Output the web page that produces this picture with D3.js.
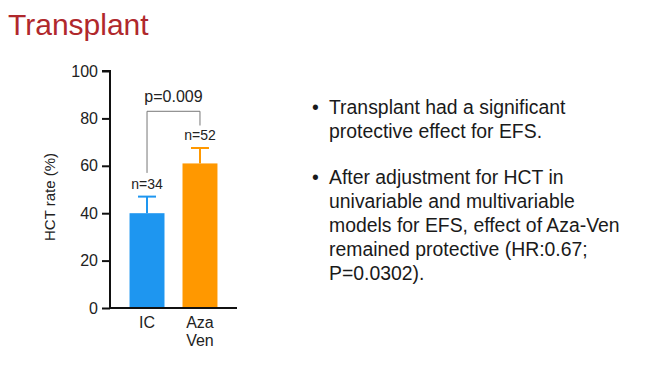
<!DOCTYPE html>
<html>
<head>
<meta charset="utf-8">
<script src="https://cdn.jsdelivr.net/npm/d3@7"></script>
<style>
  body { margin: 0; background: #fff; }
  svg { display: block; font-family: "Liberation Sans", Arial, sans-serif; }
</style>
</head>
<body>
<div class="chart"></div>
<script>
// chart data
var categories = ["IC", "Aza Ven"];
var rates = [40, 61];
var errorTops = [47, 67.5];
var nLabels = ["n=34", "n=52"];
var yTicks = [0, 20, 40, 60, 80, 100];
var pLabel = "p=0.009";
// bracket in data units: top, left end, right end
var bracket = [83, 57, 77];

var titleText = "Transplant";
var bullets = [
  ["Transplant had a significant", "protective effect for EFS."],
  ["After adjustment for HCT in", "univariable and multivariable",
   "models for EFS, effect of Aza-Ven", "remained protective (HR:0.67;",
   "P=0.0302)."]
];

var svgWidth = 663, svgHeight = 372;
var colors = ["#1e96f0", "#ff9800"];

var svg = d3.select(".chart")
  .append("svg")
  .attr("width", svgWidth)
  .attr("height", svgHeight);

// title
svg.append("text")
  .attr("x", 8)
  .attr("y", 35)
  .style("font-size", "30px")
  .style("fill", "#b0282c")
  .text(titleText);

// scales
var yScale = d3.scaleLinear()
  .domain([0, 100])
  .range([308, 71]);

var xScale = d3.scaleBand()
  .domain(categories)
  .range([111, 236])
  .paddingInner(0.34)
  .paddingOuter(0.35);

// bars
svg.selectAll("rect.bar")
  .data(rates)
  .enter()
  .append("rect")
  .attr("class", "bar")
  .attr("x", (d, i) => xScale(categories[i]))
  .attr("y", d => yScale(d))
  .attr("width", xScale.bandwidth())
  .attr("height", d => yScale(0) - yScale(d))
  .attr("fill", (d, i) => colors[i]);

// error bars (upper only)
var errG = svg.selectAll("g.err")
  .data(errorTops)
  .enter()
  .append("g")
  .attr("class", "err")
  .attr("stroke", (d, i) => colors[i])
  .attr("stroke-width", 2);

errG.append("line")
  .attr("x1", (d, i) => xScale(categories[i]) + xScale.bandwidth() / 2)
  .attr("x2", (d, i) => xScale(categories[i]) + xScale.bandwidth() / 2)
  .attr("y1", (d, i) => yScale(rates[i]))
  .attr("y2", d => yScale(d));

errG.append("line")
  .attr("x1", (d, i) => xScale(categories[i]) + xScale.bandwidth() / 2 - 9)
  .attr("x2", (d, i) => xScale(categories[i]) + xScale.bandwidth() / 2 + 9)
  .attr("y1", d => yScale(d))
  .attr("y2", d => yScale(d));

// n labels
svg.selectAll("text.n")
  .data(nLabels)
  .enter()
  .append("text")
  .attr("class", "n")
  .attr("x", (d, i) => xScale(categories[i]) + xScale.bandwidth() / 2)
  .attr("y", (d, i) => yScale(errorTops[i]) - 8)
  .style("font-size", "14px")
  .style("text-anchor", "middle")
  .style("fill", "#222")
  .text(d => d);

// significance bracket
var cx0 = xScale(categories[0]) + xScale.bandwidth() / 2;
var cx1 = xScale(categories[1]) + xScale.bandwidth() / 2;
svg.append("path")
  .attr("d", `M${cx0},${yScale(bracket[1])}V${yScale(bracket[0])}H${cx1}V${yScale(bracket[2])}`)
  .attr("fill", "none")
  .attr("stroke", "#777")
  .attr("stroke-width", 1);

svg.append("text")
  .attr("x", (cx0 + cx1) / 2)
  .attr("y", yScale(bracket[0]) - 9)
  .style("font-size", "16px")
  .style("text-anchor", "middle")
  .style("fill", "#222")
  .text(pLabel);

// axes
var leftAxis = d3.axisLeft(yScale)
  .tickValues(yTicks)
  .tickSize(8)
  .tickPadding(4);

var yAxisG = svg.append("g")
  .attr("transform", "translate(110,0)")
  .call(leftAxis);
yAxisG.select(".domain").attr("d", `M-8,${yScale(100)}H0V${yScale(0)}`);
yAxisG.selectAll("path, line").attr("stroke", "#111").attr("stroke-width", 2);
yAxisG.selectAll("text").style("font-size", "16px").style("fill", "#222")
  .style("font-family", "'Liberation Sans', Arial, sans-serif");

svg.append("line")
  .attr("x1", 109)
  .attr("x2", 237)
  .attr("y1", yScale(0))
  .attr("y2", yScale(0))
  .attr("stroke", "#111")
  .attr("stroke-width", 2);

// category labels
var catText = svg.selectAll("text.cat")
  .data(categories)
  .enter()
  .append("text")
  .attr("class", "cat")
  .attr("x", d => xScale(d) + xScale.bandwidth() / 2)
  .attr("y", 328)
  .style("font-size", "16px")
  .style("text-anchor", "middle")
  .style("fill", "#222");

catText.selectAll("tspan")
  .data(d => d.split(" "))
  .enter()
  .append("tspan")
  .attr("x", function () { return d3.select(this.parentNode).attr("x"); })
  .attr("dy", (d, i) => i === 0 ? 0 : 18)
  .text(d => d);

// y axis label
svg.append("text")
  .attr("transform", "translate(55,197) rotate(-90)")
  .style("font-size", "15px")
  .style("text-anchor", "middle")
  .style("fill", "#222")
  .text("HCT rate (%)");

// bullet text
var bulletStarts = [114, 184];
bullets.forEach(function (lines, b) {
  svg.append("text")
    .attr("x", 312)
    .attr("y", bulletStarts[b])
    .style("font-size", "19.4px")
    .style("fill", "#1a1a1a")
    .text("\u2022");
  lines.forEach(function (line, i) {
    svg.append("text")
      .attr("x", 329)
      .attr("y", bulletStarts[b] + i * 24)
      .style("font-size", "19.4px")
      .style("fill", "#1a1a1a")
      .text(line);
  });
});
</script>
</body>
</html>
